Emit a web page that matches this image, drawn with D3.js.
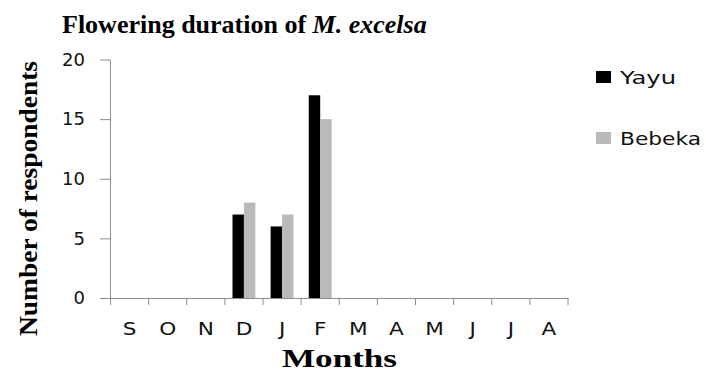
<!DOCTYPE html>
<html><head><meta charset="utf-8">
<script src="https://cdn.jsdelivr.net/npm/d3@7"></script>
<style>body{margin:0;background:#fff}svg{display:block}</style>
</head><body>
<svg id="c" width="706" height="372"></svg>
<script>
const months = ["S","O","N","D","J","F","M","A","M","J","J","A"];
const seriesNames = ["Yayu","Bebeka"];
const yayu =   [0,0,0,7,6,17,0,0,0,0,0,0];
const bebeka = [0,0,0,8,7,15,0,0,0,0,0,0];
const yTicks = [0,5,10,15,20];
const colors = ["#000000","#bababa"];

const svg = d3.select("#c");
const pLeft = 110.5, pRight = 568, pTop = 59.5, pBottom = 298;
const idx = months.map((m,i)=>i);
const x0 = d3.scaleBand().domain(idx).range([pLeft,pRight]).paddingInner(0).paddingOuter(0);
const bw = x0.bandwidth();
const x1 = d3.scaleBand().domain(seriesNames).range([bw*0.2, bw*0.8]).padding(0);
const y = d3.scaleLinear().domain([0,20]).range([pBottom,pTop]);
const axisColor = "#8c8c8c";

// y axis
const ya = svg.append("g").attr("transform",`translate(${pLeft-0.5},0)`)
  .call(d3.axisLeft(y).tickValues(yTicks).tickSize(10).tickSizeOuter(0).tickPadding(15));
ya.select(".domain").attr("stroke",axisColor);
ya.selectAll(".tick line").attr("stroke",axisColor);
ya.selectAll("text").attr("font-family","DejaVu Sans").attr("font-size",18).attr("fill","#111");

// bars
const data = [yayu, bebeka];
const g = svg.append("g");
seriesNames.forEach((s,si)=>{
  g.selectAll(".b"+si).data(idx).enter().append("rect")
    .attr("x", i=>x0(i)+x1(s))
    .attr("width", x1.bandwidth())
    .attr("y", i=>y(data[si][i]))
    .attr("height", i=>y(0)-y(data[si][i]))
    .attr("fill", colors[si]);
});

// x axis
const xa = svg.append("g").attr("transform",`translate(0,${pBottom})`)
  .call(d3.axisBottom(x0).tickSize(0).tickPadding(24).tickFormat(i=>months[i]));
xa.select(".domain").attr("stroke",axisColor);
xa.selectAll("text").attr("font-family","DejaVu Sans").attr("font-size",18).attr("fill","#111")
  .each(function(){ const w=this.getComputedTextLength(); d3.select(this).attr("textLength", w*1.2).attr("lengthAdjust","spacingAndGlyphs"); });
const bounds = idx.map(i=>x0(i)).concat([x0(idx[idx.length-1])+bw]);
svg.append("g").selectAll("line").data(bounds).enter().append("line")
  .attr("x1",d=>d).attr("x2",d=>d).attr("y1",pBottom).attr("y2",pBottom+7)
  .attr("stroke",axisColor);

// title
const t = svg.append("text").attr("x",62).attr("y",33)
  .attr("font-family","Liberation Serif").attr("font-weight","bold").attr("font-size",26).attr("fill","#000");
t.append("tspan").text("Flowering duration of ");
t.append("tspan").attr("font-style","italic").text("M. excelsa");

// axis titles
svg.append("text").attr("transform","translate(37,198.5) rotate(-90)")
  .attr("text-anchor","middle").attr("font-family","Liberation Serif").attr("font-weight","bold")
  .attr("font-size",26).attr("textLength",275).attr("lengthAdjust","spacingAndGlyphs")
  .text("Number of respondents");
svg.append("text").attr("x",339.5).attr("y",367)
  .attr("text-anchor","middle").attr("font-family","Liberation Serif").attr("font-weight","bold")
  .attr("font-size",25).attr("textLength",115).attr("lengthAdjust","spacingAndGlyphs")
  .text("Months");

// legend
const legY = [77, 138];
seriesNames.forEach((s,i)=>{
  svg.append("rect").attr("x",596).attr("y",legY[i]-6).attr("width",15).attr("height",12).attr("fill",colors[i]);
  svg.append("text").attr("x",620).attr("y",legY[i]+7).attr("font-family","DejaVu Sans").attr("font-size",18)
    .attr("fill","#111").attr("textLength", i===0?56:81).attr("lengthAdjust","spacingAndGlyphs").text(s);
});
</script>
</body></html>
